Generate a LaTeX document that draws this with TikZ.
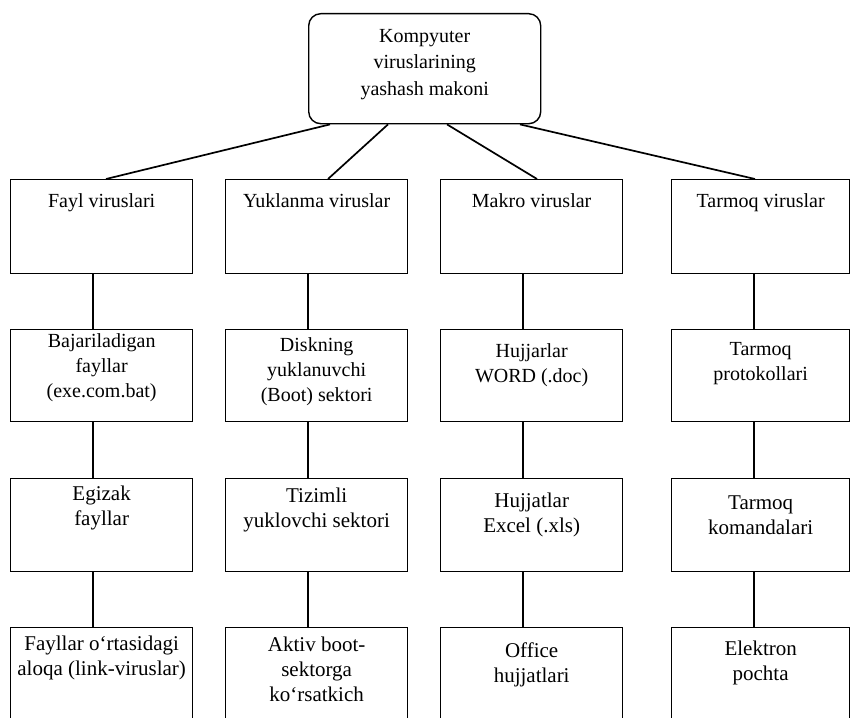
\documentclass[tikz,border=0pt]{standalone}
\usepackage{fontspec}
\setmainfont{Liberation Serif}
\usetikzlibrary{calc}
\begin{document}
\begin{tikzpicture}[x=1pt,y=-1pt,
  box/.style={draw,line width=1.3pt,rectangle,inner sep=0pt,anchor=north west,minimum width=182pt},
  r1/.style={box,minimum height=94pt},
  r2/.style={box,minimum height=92pt},
  r3/.style={box,minimum height=93pt},
  r4/.style={box,minimum height=110pt},
  txt/.style={anchor=base,align=center,inner sep=0pt,font=\fontsize{20}{25}\selectfont},
  txtb/.style={anchor=base,align=center,inner sep=0pt,font=\fontsize{21}{25}\selectfont},
  link/.style={line width=1.1pt},
  diag/.style={line width=1.7pt}]
\fill[white] (0,0) rectangle (850,717);
\useasboundingbox (0,0) rectangle (850,717);
\clip (0,0) rectangle (850,717);

% top
\node[draw,rounded corners=12pt,line width=1.4pt,anchor=north west,inner sep=0pt,
      minimum width=232pt,minimum height=110pt] (top) at (308,13) {};
\node[anchor=base,align=center,inner sep=0pt,font=\fontsize{20}{26.5}\selectfont] (ttop)
   at ($(top.north)+(0,82)$) {Kompyuter\\viruslarining\\yashash makoni};

% row 1
\node[r1] (b11) at (10,179) {};
\node[r1] (b12) at (225,179) {};
\node[r1] (b13) at (440,179) {};
\node[r1,minimum width=178pt] (b14) at (671,179) {};
% row 2
\node[r2] (b21) at (10,329) {};
\node[r2] (b22) at (225,329) {};
\node[r2] (b23) at (440,329) {};
\node[r2,minimum width=178pt] (b24) at (671,329) {};
% row 3
\node[r3] (b31) at (10,478) {};
\node[r3] (b32) at (225,478) {};
\node[r3] (b33) at (440,478) {};
\node[r3,minimum width=178pt] (b34) at (671,478) {};
% row 4
\node[r4] (b41) at (10,627) {};
\node[r4] (b42) at (225,627) {};
\node[r4] (b43) at (440,627) {};
\node[r4,minimum width=178pt] (b44) at (671,627) {};

% texts (anchor = baseline of the last line)
\node[txt] (t11) at ($(b11.north)+(0,28)$) {Fayl viruslari};
\node[txt] (t12) at ($(b12.north)+(0,28)$) {Yuklanma viruslar};
\node[txt] (t13) at ($(b13.north)+(0,28)$) {Makro viruslar};
\node[txt] (t14) at ($(b14.north)+(0,28)$) {Tarmoq viruslar};

\node[txt] (t21) at ($(b21.north)+(0,68)$) {Bajariladigan\\fayllar\\(exe.com.bat)};
\node[txt] (t22) at ($(b22.north)+(0,72)$) {Diskning\\yuklanuvchi\\(Boot) sektori};
\node[txt] (t23) at ($(b23.north)+(0,53)$) {Hujjarlar\\WORD (.doc)};
\node[txt] (t24) at ($(b24.north)+(0,51)$) {Tarmoq\\protokollari};

\node[txtb] (t31) at ($(b31.north)+(0,47)$) {Egizak\\fayllar};
\node[txtb] (t32) at ($(b32.north)+(0,49)$) {Tizimli\\yuklovchi sektori};
\node[txtb] (t33) at ($(b33.north)+(0,54)$) {Hujjatlar\\Excel (.xls)};
\node[txtb] (t34) at ($(b34.north)+(0,56)$) {Tarmoq\\komandalari};

\node[txtb] (t41) at ($(b41.north)+(0,48)$) {Fayllar o‘rtasidagi\\aloqa (link-viruslar)};
\node[txtb] (t42) at ($(b42.north)+(0,74)$) {Aktiv boot-\\sektorga\\ko‘rsatkich};
\node[txtb] (t43) at ($(b43.north)+(0,55)$) {Office\\hujjatlari};
\node[txtb] (t44) at ($(b44.north)+(0,53)$) {Elektron\\pochta};

% diagonals
\draw[diag] ($(top.south west)+(22,0)$) -- ($(b11.north west)+(96,0)$);
\draw[diag] ($(top.south west)+(80,0)$) -- ($(b12.north west)+(103,0)$);
\draw[diag] ($(top.south west)+(139,0)$) -- ($(b13.north west)+(97,0)$);
\draw[diag] ($(top.south west)+(212,0)$) -- ($(b14.north west)+(84,0)$);

% verticals
\foreach \c in {1,2,3,4}{
  \draw[link] ($(b1\c.south west)+(83,0)$) -- ($(b2\c.north west)+(83,0)$);
  \draw[link] ($(b2\c.south west)+(83,0)$) -- ($(b3\c.north west)+(83,0)$);
  \draw[link] ($(b3\c.south west)+(83,0)$) -- ($(b4\c.north west)+(83,0)$);
}
\end{tikzpicture}
\end{document}
